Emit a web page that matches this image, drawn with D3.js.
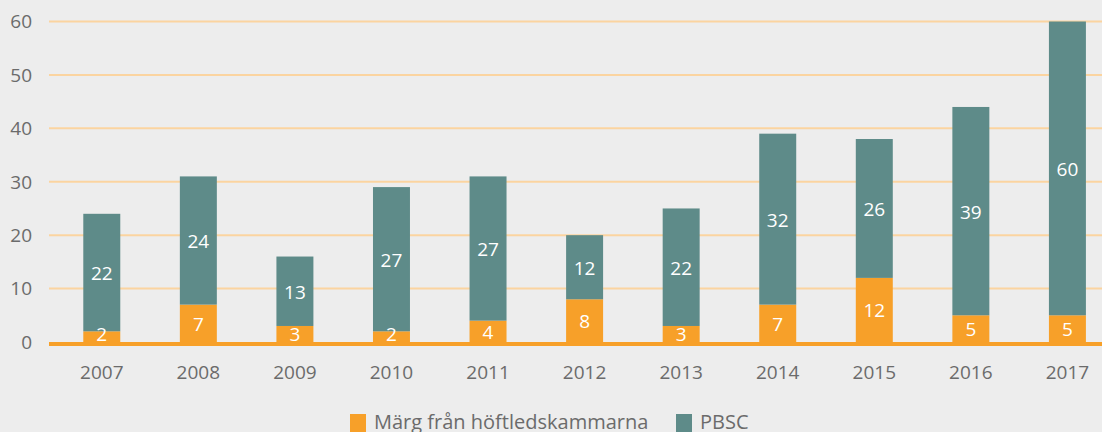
<!DOCTYPE html>
<html>
<head>
<meta charset="utf-8">
<script src="https://cdn.jsdelivr.net/npm/d3@7/dist/d3.min.js"></script>
<style>
  html, body { margin: 0; padding: 0; background: #ededed; }
  svg { display: block; font-family: "Open Sans", "Noto Sans", sans-serif; }
</style>
</head>
<body>
<div id="chart"></div>
<script>
"use strict";

/* Chart data */
const years = ["2007", "2008", "2009", "2010", "2011", "2012", "2013", "2014", "2015", "2016", "2017"];
const margValues = [2, 7, 3, 2, 4, 8, 3, 7, 12, 5, 5];
const pbscValues = [22, 24, 13, 27, 27, 12, 22, 32, 26, 39, 60];
const yTicks = [0, 10, 20, 30, 40, 50, 60];
const seriesNames = ["Märg från höftledskammarna", "PBSC"];
const seriesColors = ["#f7a029", "#5e8b89"];

const width = 1102, height = 432;
const yMax = 60;

let svg = d3.select("#chart").append("svg")
    .attr("width", width)
    .attr("height", height);

svg.append("rect")
    .attr("width", width)
    .attr("height", height)
    .attr("fill", "#ededed");

/* Scales */
let x = d3.scaleBand()
    .domain(years)
    .range([53.5, 1115.7])
    .paddingInner(0.617)
    .paddingOuter(0.3085);

let y = d3.scaleLinear()
    .domain([0, yMax])
    .range([342, 21.5]);

/* Gridlines */
svg.append("g")
    .selectAll("line")
    .data(yTicks.filter(function(d) { return d > 0; }))
    .enter().append("line")
    .attr("x1", 49)
    .attr("x2", width)
    .attr("y1", function(d) { return y(d); })
    .attr("y2", function(d) { return y(d); })
    .attr("stroke", "#fbd4a0")
    .attr("stroke-width", 2);

/* Y axis labels */
svg.append("g")
    .selectAll("text")
    .data(yTicks)
    .enter().append("text")
    .attr("x", 32)
    .attr("y", function(d) { return y(d); })
    .attr("dy", "0.36em")
    .attr("text-anchor", "end")
    .attr("fill", "#6b6b6b")
    .style("font-size", "19px")
    .text(function(d) { return d; });

/* Stack the two series, clipping at the axis maximum */
let rows = years.map(function(yr, i) {
  return { year: yr, marg: margValues[i], pbsc: pbscValues[i] };
});
let stacked = d3.stack().keys(["marg", "pbsc"])(rows);

let layers = svg.append("g")
    .selectAll("g")
    .data(stacked)
    .enter().append("g")
    .attr("fill", function(d, i) { return seriesColors[i]; });

layers.selectAll("rect")
    .data(function(d) { return d; })
    .enter().append("rect")
    .attr("x", function(d) { return x(d.data.year); })
    .attr("width", x.bandwidth())
    .attr("y", function(d) { return y(Math.min(d[1], yMax)); })
    .attr("height", function(d) { return y(d[0]) - y(Math.min(d[1], yMax)); });

/* Baseline */
svg.append("line")
    .attr("x1", 49)
    .attr("x2", width)
    .attr("y1", y(0) + 2)
    .attr("y2", y(0) + 2)
    .attr("stroke", seriesColors[0])
    .attr("stroke-width", 4);

/* Value labels, kept above the baseline */
svg.append("g")
    .selectAll("g")
    .data(stacked)
    .enter().append("g")
    .selectAll("text")
    .data(function(d) { return d.map(function(p) { p.key = d.key; return p; }); })
    .enter().append("text")
    .attr("x", function(d) { return x(d.data.year) + x.bandwidth() / 2; })
    .attr("y", function(d) {
      return Math.min(y((d[0] + Math.min(d[1], yMax)) / 2) + 7.5, y(0) - 1);
    })
    .attr("text-anchor", "middle")
    .attr("fill", "#ffffff")
    .style("font-size", "19px")
    .text(function(d) { return d.data[d.key]; });

/* X axis labels */
svg.append("g")
    .selectAll("text")
    .data(years)
    .enter().append("text")
    .attr("x", function(d) { return x(d) + x.bandwidth() / 2; })
    .attr("y", 379)
    .attr("text-anchor", "middle")
    .attr("fill", "#6b6b6b")
    .style("font-size", "19px")
    .text(function(d) { return d; });

/* Legend */
let legendX = [350, 676];
let legend = svg.append("g")
    .selectAll("g")
    .data(seriesNames)
    .enter().append("g")
    .attr("transform", function(d, i) { return "translate(" + legendX[i] + ",414)"; });

legend.append("rect")
    .attr("width", 16)
    .attr("height", 18)
    .attr("fill", function(d, i) { return seriesColors[i]; });

legend.append("text")
    .attr("x", 24)
    .attr("y", 15)
    .attr("fill", "#6b6b6b")
    .style("font-size", "20px")
    .text(function(d) { return d; });
</script>
</body>
</html>
